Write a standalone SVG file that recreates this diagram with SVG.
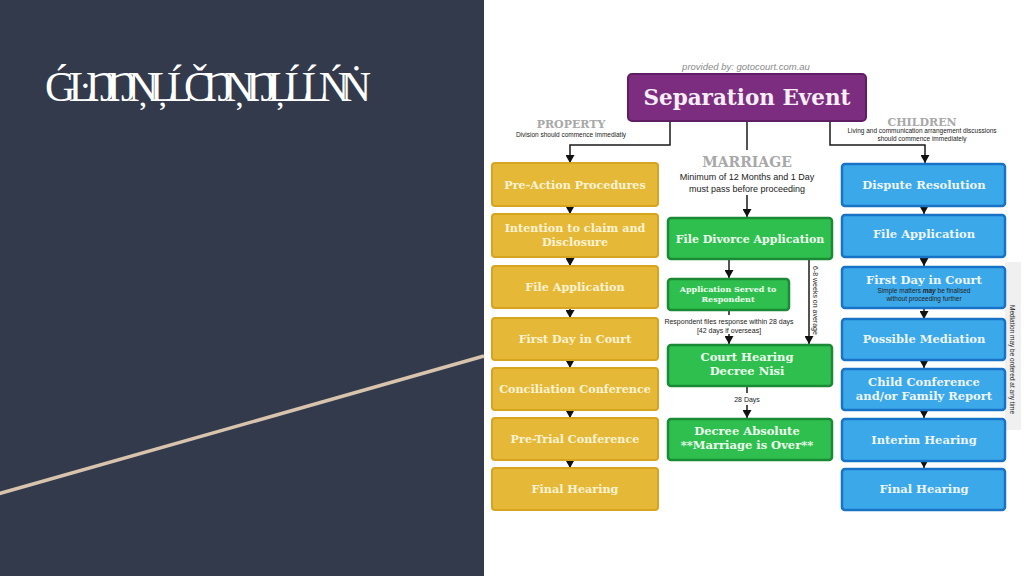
<svg xmlns="http://www.w3.org/2000/svg" width="1024" height="576" viewBox="0 0 1024 576">
<defs>
<marker id="ah" markerUnits="userSpaceOnUse" markerWidth="9" markerHeight="9" refX="8" refY="4.5" orient="auto">
<path d="M0,0 L8,4.5 L0,9 z" fill="#111"/>
</marker>
</defs>
<style>
.gold{fill:#E6B837;stroke:#D6A41E;stroke-width:2}
.green{fill:#2EBF4E;stroke:#1B8A35;stroke-width:2.5}
.blue{fill:#3BA8EA;stroke:#1873C6;stroke-width:2.5}
.bt{font-family:"DejaVu Serif",serif;font-weight:bold;text-anchor:middle}
.gt{fill:#FFF4D4;font-size:11.2px}
.grt{fill:#EFFFF0}
.blt{fill:#EEF7FF}
.hdr{font-family:"DejaVu Serif",serif;font-weight:bold;fill:#A8A8A8;text-anchor:middle}
.sm{font-family:"Liberation Sans",Arial,sans-serif;fill:#222;text-anchor:middle}
.vt{font-family:"Liberation Sans",Arial,sans-serif;fill:#222;text-anchor:start}
.cn{stroke:#1a1a1a;stroke-width:1.5;fill:none}
.ar{marker-end:url(#ah)}
</style>
<rect x="0" y="0" width="1024" height="576" fill="#FFFFFF"/>
<rect x="0" y="0" width="484" height="576" fill="#323A4C"/>
<line x1="-2" y1="494" x2="484" y2="356" stroke="#D8C3AD" stroke-width="3.5"/>
<text x="45" y="101" font-family="Liberation Serif,serif" font-size="42" fill="#FFFFFF" letter-spacing="-8.5">Ǵ ĿŊŊŅĻĹČŊŅŊĻĹĹŃṄ</text>

<text x="746" y="70" font-family="Liberation Sans,Arial,sans-serif" font-style="italic" font-size="9.5" fill="#8A8A8A" text-anchor="middle">provided by: gotocourt.com.au</text>
<rect x="1005" y="262" width="16" height="168" fill="#F0F0F0"/>

<g id="connectors">
<polyline class="cn ar" points="670,121 670,145 570,145 570,163"/>
<line class="cn" x1="747" y1="121" x2="747" y2="150"/>
<polyline class="cn ar" points="830,121 830,145 925,145 925,163"/>
<line class="cn ar" x1="570" y1="206" x2="570" y2="214"/>
<line class="cn ar" x1="570" y1="257" x2="570" y2="266"/>
<line class="cn ar" x1="570" y1="308" x2="570" y2="318"/>
<line class="cn ar" x1="570" y1="360" x2="570" y2="368"/>
<line class="cn ar" x1="570" y1="410" x2="570" y2="418"/>
<line class="cn ar" x1="570" y1="460" x2="570" y2="468"/>
<line class="cn ar" x1="924" y1="207" x2="924" y2="214"/>
<line class="cn ar" x1="924" y1="257" x2="924" y2="266"/>
<line class="cn ar" x1="924" y1="308" x2="924" y2="319"/>
<line class="cn ar" x1="924" y1="360" x2="924" y2="368"/>
<line class="cn ar" x1="924" y1="410" x2="924" y2="418"/>
<line class="cn ar" x1="924" y1="462" x2="924" y2="468"/>
<line class="cn ar" x1="747" y1="195" x2="747" y2="217"/>
<line class="cn ar" x1="729" y1="259" x2="729" y2="278"/>
<line class="cn ar" x1="809" y1="259" x2="809" y2="344"/>
<line class="cn" x1="729" y1="310" x2="729" y2="315"/>
<line class="cn ar" x1="729" y1="334" x2="729" y2="344"/>
<line class="cn" x1="747" y1="387" x2="747" y2="393"/>
<line class="cn ar" x1="747" y1="405" x2="747" y2="418"/>
</g>

<g id="separation-event">
<rect x="628" y="74" width="238" height="47" rx="4" fill="#7C2D7F" stroke="#5F1E63" stroke-width="2"/>
<text x="747" y="105" class="bt" font-size="21.5" fill="#F7EEF7">Separation Event</text>
</g>

<g id="property-header">
<text x="571" y="128" class="hdr" font-size="11">PROPERTY</text>
<text x="571" y="137" class="sm" font-size="6.5">Division should commence immediatly</text>
</g>
<g id="children-header">
<text x="922" y="126" class="hdr" font-size="11">CHILDREN</text>
<text x="922" y="133" class="sm" font-size="6.5">Living and communication arrangement discussions</text>
<text x="922" y="141" class="sm" font-size="6.5">should commence immediately</text>
</g>
<g id="marriage-header">
<text x="747" y="167" class="hdr" font-size="14">MARRIAGE</text>
<text x="747" y="180" class="sm" font-size="9">Minimum of 12 Months and 1 Day</text>
<text x="747" y="192" class="sm" font-size="9">must pass before proceeding</text>
</g>

<g id="p1"><rect class="gold" x="492" y="163" width="166" height="43" rx="3"/><text class="bt gt" x="575" y="189">Pre-Action Procedures</text></g>
<g id="p2"><rect class="gold" x="492" y="214" width="166" height="43" rx="3"/><text class="bt gt" x="575" y="232">Intention to claim and</text><text class="bt gt" x="575" y="246">Disclosure</text></g>
<g id="p3"><rect class="gold" x="492" y="266" width="166" height="42" rx="3"/><text class="bt gt" x="575" y="291">File Application</text></g>
<g id="p4"><rect class="gold" x="492" y="318" width="166" height="42" rx="3"/><text class="bt gt" x="575" y="343">First Day in Court</text></g>
<g id="p5"><rect class="gold" x="492" y="368" width="166" height="42" rx="3"/><text class="bt gt" x="575" y="393">Conciliation Conference</text></g>
<g id="p6"><rect class="gold" x="492" y="418" width="166" height="42" rx="3"/><text class="bt gt" x="575" y="443">Pre-Trial Conference</text></g>
<g id="p7"><rect class="gold" x="492" y="468" width="166" height="42" rx="3"/><text class="bt gt" x="575" y="493">Final Hearing</text></g>

<g id="m1"><rect class="green" x="668" y="218" width="164" height="41" rx="3"/><text class="bt grt" x="750" y="243" font-size="11">File Divorce Application</text></g>
<g id="m2"><rect class="green" x="668" y="279" width="121" height="31" rx="3"/><text class="bt grt" x="728" y="292" font-size="8">Application Served to</text><text class="bt grt" x="728" y="302" font-size="8">Respondent</text></g>
<text class="sm" x="729" y="324" font-size="7">Respondent files response within 28 days</text>
<text class="sm" x="729" y="333" font-size="7">[42 days if overseas]</text>
<text class="vt" transform="translate(813,266) rotate(90)" font-size="7">6-8 weeks on average</text>
<g id="m3"><rect class="green" x="668" y="345" width="164" height="41" rx="3"/><text class="bt grt" x="747" y="361" font-size="11.5">Court Hearing</text><text class="bt grt" x="747" y="375" font-size="11.5">Decree Nisi</text></g>
<text class="sm" x="747" y="402" font-size="7">28 Days</text>
<g id="m4"><rect class="green" x="668" y="419" width="164" height="41" rx="3"/><text class="bt grt" x="747" y="435" font-size="11.5">Decree Absolute</text><text class="bt grt" x="747" y="449" font-size="11.5">**Marriage is Over**</text></g>

<g id="c1"><rect class="blue" x="842" y="164" width="163" height="42" rx="3"/><text class="bt blt" x="924" y="189" font-size="11.5">Dispute Resolution</text></g>
<g id="c2"><rect class="blue" x="842" y="215" width="163" height="42" rx="3"/><text class="bt blt" x="924" y="238" font-size="11.5">File Application</text></g>
<g id="c3"><rect class="blue" x="842" y="267" width="163" height="41" rx="3"/><text class="bt blt" x="924" y="284" font-size="11.5">First Day in Court</text><text class="sm" x="924" y="293" font-size="6.5">Simple matters <tspan font-weight="bold" font-style="italic">may</tspan> be finalised</text><text class="sm" x="924" y="301" font-size="6.5">without proceeding further</text></g>
<g id="c4"><rect class="blue" x="842" y="319" width="163" height="41" rx="3"/><text class="bt blt" x="924" y="343" font-size="11.5">Possible Mediation</text></g>
<g id="c5"><rect class="blue" x="842" y="369" width="163" height="41" rx="3"/><text class="bt blt" x="924" y="386" font-size="11.5">Child Conference</text><text class="bt blt" x="924" y="400" font-size="11.5">and/or Family Report</text></g>
<g id="c6"><rect class="blue" x="842" y="419" width="163" height="42" rx="3"/><text class="bt blt" x="924" y="444" font-size="11.5">Interim Hearing</text></g>
<g id="c7"><rect class="blue" x="842" y="469" width="163" height="41" rx="3"/><text class="bt blt" x="924" y="493" font-size="11.5">Final Hearing</text></g>
<text class="vt" transform="translate(1010,305) rotate(90)" font-size="6.5">Mediation may be ordered at any time</text>
</svg>
